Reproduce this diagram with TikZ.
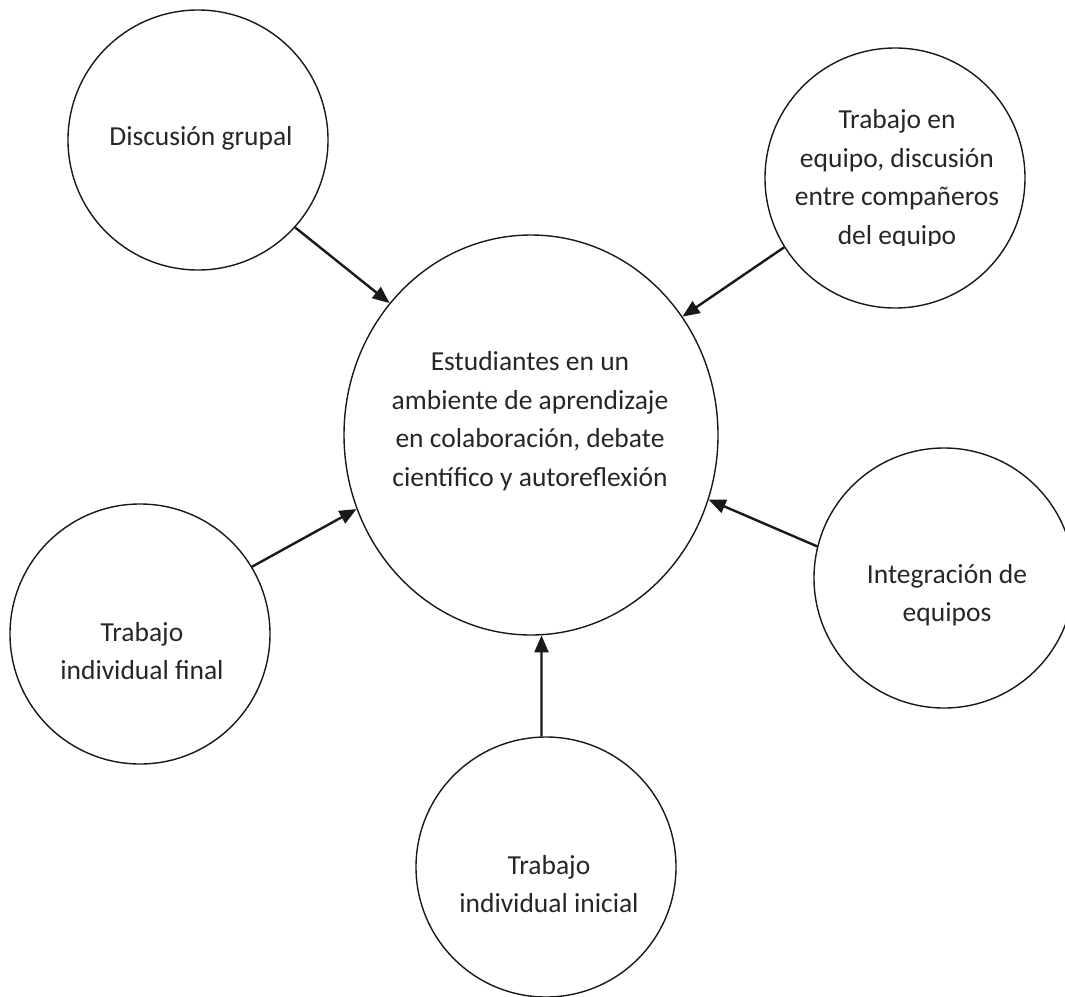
\documentclass[tikz,border=0pt]{standalone}
\usepackage{fontspec}
\setmainfont{Carlito}
\usetikzlibrary{shapes.geometric,arrows.meta}
\begin{document}
\begin{tikzpicture}[x=1pt,y=-1pt,
  bubble/.style={draw=black!90, line width=1.4pt, circle, minimum size=260pt, inner sep=0pt},
  hub/.style={draw=black!90, line width=1.4pt, ellipse, minimum width=374pt, minimum height=400pt, inner sep=0pt},
  txt/.style={align=center, inner sep=0pt, text=black!85, font=\fontsize{27.5}{38.5}\selectfont},
  link/.style={draw=black!90, line width=2.4pt, -{Triangle[length=17pt,width=14pt]}}]
\useasboundingbox (0,0) rectangle (1065,996);
% shapes
\node[hub] (hub) at (531,435) {};
\node[bubble] (disc) at (198,140) {};
\node[bubble] (team) at (895,178) {};
\node[bubble] (final) at (140,634) {};
\node[bubble] (integ) at (944,578) {};
\node[bubble] (init) at (546,867) {};
% texts
\node[txt] (hubtext) at (530,421) {Estudiantes en un\\ambiente de aprendizaje\\en colaboración, debate\\científico y autoreflexión};
\node[txt] (disctext) at (201,138) {Discusión grupal};
\begin{scope}
  \clip (760,40) rectangle (1030,245);
  \node[txt] (teamtext) at (897,179) {Trabajo en\\equipo, discusión\\entre compañeros\\del equipo};
\end{scope}
\node[txt] (finaltext) at (142,651) {Trabajo\\individual final};
\node[txt] (integtext) at (947,595) {Integración de\\equipos};
\node[txt] (inittext) at (549,884) {Trabajo\\individual inicial};
% connectors
\draw[link] (disc.-42.2) -- (hub.137.3);
\draw[link] (team.212.1) -- (hub.38.8);
\draw[link] (final.31.6) -- (hub.203.1);
\draw[link] (integ.166.9) -- (hub.-20);
\draw[link] (init.92.6) -- (hub.-87.4);
\end{tikzpicture}
\end{document}
